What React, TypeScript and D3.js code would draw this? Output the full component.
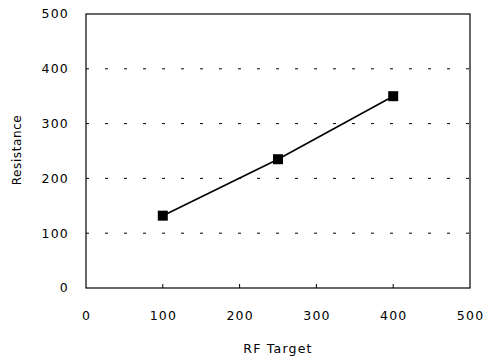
import React from "react";
import * as d3 from "d3";

const rfTarget = [100, 250, 400];
const resistance = [132, 235, 350];
const xTicks = [0, 100, 200, 300, 400, 500];
const yTicks = [0, 100, 200, 300, 400, 500];

export default function App() {
  const W = 489, H = 362;
  const m = { left: 86, right: 19, top: 14, bottom: 74 };
  const x = d3.scaleLinear().domain([0, 500]).range([m.left, W - m.right]);
  const y = d3.scaleLinear().domain([0, 500]).range([H - m.bottom, m.top]);
  const pts = rfTarget.map((v, i) => [v, resistance[i]] as [number, number]);
  const line = d3.line<[number, number]>().x(d => x(d[0])).y(d => y(d[1]));
  const font = "'DejaVu Sans', sans-serif";
  const fs = 12.5;
  const ls = 1.2;
  return (
    <svg width={W} height={H} style={{ position: "absolute", left: 0, top: 0, background: "#fff" }}>
      {yTicks.filter(t => t > 0 && t < 500).map(t => (
        <line key={"g" + t} x1={x(0)} x2={x(500)} y1={y(t)} y2={y(t)} stroke="#000" strokeWidth={1} strokeDasharray="3,16" />
      ))}
      <rect x={x(0)} y={y(500)} width={x(500) - x(0)} height={y(0) - y(500)} fill="none" stroke="#000" strokeWidth={1.2} />
      {xTicks.filter(t => t > 0 && t < 500).map(t => (
        <line key={"xt" + t} x1={x(t)} x2={x(t)} y1={y(0)} y2={y(0) - 4} stroke="#000" />
      ))}
      {yTicks.map(t => (
        <text key={"yl" + t} x={69} y={y(t)} dy="0.35em" textAnchor="end" fontFamily={font} fontSize={fs} letterSpacing={ls}>{t}</text>
      ))}
      {xTicks.map(t => (
        <text key={"xl" + t} x={x(t) + ls / 2} y={320} textAnchor="middle" fontFamily={font} fontSize={fs} letterSpacing={ls}>{t}</text>
      ))}
      <text x={278} y={353} textAnchor="middle" fontFamily={font} fontSize={fs} letterSpacing={ls}>RF Target</text>
      <text transform={`translate(21,${(y(0) + y(500)) / 2 - 1}) rotate(-90)`} textAnchor="middle" fontFamily={font} fontSize={fs - 0.5} letterSpacing={0.6}>Resistance</text>
      <path d={line(pts) || ""} fill="none" stroke="#000" strokeWidth={1.6} />
      {pts.map((p, i) => (
        <rect key={"p" + i} x={x(p[0]) - 5} y={y(p[1]) - 5} width={10} height={10} fill="#000" />
      ))}
    </svg>
  );
}
